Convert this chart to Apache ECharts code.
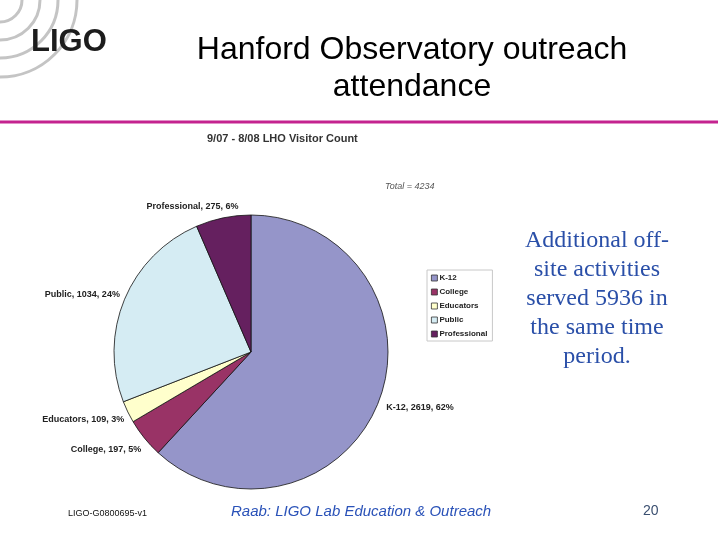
<!DOCTYPE html>
<html>
<head>
<meta charset="utf-8">
<script src="https://cdn.jsdelivr.net/npm/echarts@6/dist/echarts.min.js"></script>
<style>
html,body{margin:0;padding:0;background:#fff;}
#chart{width:720px;height:540px;}
</style>
</head>
<body>
<div id="chart"></div>
<script>
var categories = ['K-12', 'College', 'Educators', 'Public', 'Professional'];
var visitors = [2619, 197, 109, 1034, 275];
var sliceColors = ['#9595c9', '#993366', '#ffffcc', '#d5ecf3', '#65205f'];
var totalLabel = 'Total = 4234';
// small label nudges (style only)
var labelNudge = [[3, 4], [1, 9], [1, 6], [0, -3], [17, -7]];

var total = visitors.reduce(function (a, b) { return a + b; }, 0);

var chart = echarts.init(document.getElementById('chart'), null, {renderer: 'canvas'});

var data = categories.map(function (c, i) {
  return {name: c, value: visitors[i], itemStyle: {color: sliceColors[i]}};
});

var arcs = [22, 40, 58, 77].map(function (r) {
  return {
    type: 'arc', z: 1,
    shape: {cx: 0, cy: 0, r: r, startAngle: 0, endAngle: Math.PI / 2},
    style: {stroke: '#c4c4c4', lineWidth: 3, fill: null}
  };
});

var option = {
  backgroundColor: '#ffffff',
  animation: false,
  title: [
    {text: 'Hanford Observatory outreach\nattendance', left: 412, top: 32, textAlign: 'center', padding: 0,
     textStyle: {fontFamily: 'Liberation Sans', fontSize: 32, fontWeight: 'normal', color: '#000', lineHeight: 37}},
    {text: '9/07 - 8/08 LHO Visitor Count', left: 207, top: 133, padding: 0,
     textStyle: {fontFamily: 'Liberation Sans', fontSize: 11, fontWeight: 'bold', color: '#333'}},
    {text: totalLabel, left: 385, top: 182, padding: 0,
     textStyle: {fontFamily: 'Liberation Sans', fontSize: 9, fontStyle: 'italic', fontWeight: 'normal', color: '#555'}}
  ],
  legend: {
    orient: 'vertical', left: 427, top: 270,
    itemWidth: 6, itemHeight: 6, itemGap: 4,
    padding: [3, 5, 2, 4],
    borderColor: '#c8c8c8', borderWidth: 1,
    icon: 'rect',
    itemStyle: {borderColor: '#333', borderWidth: 0.8},
    textStyle: {fontFamily: 'Liberation Sans', fontSize: 8, fontWeight: 'bold', color: '#222', lineHeight: 10, padding: [0, 0, 0, -3]},
    data: categories
  },
  series: [{
    type: 'pie',
    center: [251, 352],
    radius: 137,
    startAngle: 90,
    clockwise: true,
    avoidLabelOverlap: false,
    itemStyle: {borderColor: '#111', borderWidth: 0.8},
    label: {
      show: true, position: 'outside',
      fontFamily: 'Liberation Sans', fontSize: 9, fontWeight: 'bold', color: '#222',
      distanceToLabelLine: 1,
      formatter: function (p) {
        return p.name + ', ' + p.value + ', ' + Math.round(p.value / total * 100) + '%';
      }
    },
    labelLine: {show: false, length: 4, length2: 0},
    labelLayout: function (params) {
      var n = labelNudge[params.dataIndex] || [0, 0];
      return {dx: n[0], dy: n[1]};
    },
    emphasis: {disabled: true},
    data: data
  }],
  graphic: arcs.concat([
    {type: 'text', z: 5, left: 31, top: 27,
     style: {text: 'LIGO', font: 'bold 31px "Liberation Sans"', fill: '#1c1c1c'}},
    {type: 'line', z: 5, shape: {x1: 0, y1: 122, x2: 718, y2: 122},
     style: {stroke: '#c4238f', lineWidth: 3}},
    {type: 'text', z: 5, x: 597, y: 226,
     style: {text: 'Additional off-\nsite activities\nserved 5936 in\nthe same time\nperiod.',
             font: '24px "Liberation Serif"', fill: '#2a4fa8', align: 'center', lineHeight: 29}},
    {type: 'text', z: 5, x: 68, y: 509,
     style: {text: 'LIGO-G0800695-v1', font: '9px "Liberation Sans"', fill: '#111'}},
    {type: 'text', z: 5, x: 231, y: 504,
     style: {text: 'Raab: LIGO Lab Education & Outreach', font: 'italic 15px "Liberation Sans"', fill: '#2a52b8'}},
    {type: 'text', z: 5, x: 643, y: 504,
     style: {text: '20', font: '14px "Liberation Sans"', fill: '#3a4f70'}}
  ])
};
chart.setOption(option);
</script>
</body>
</html>
